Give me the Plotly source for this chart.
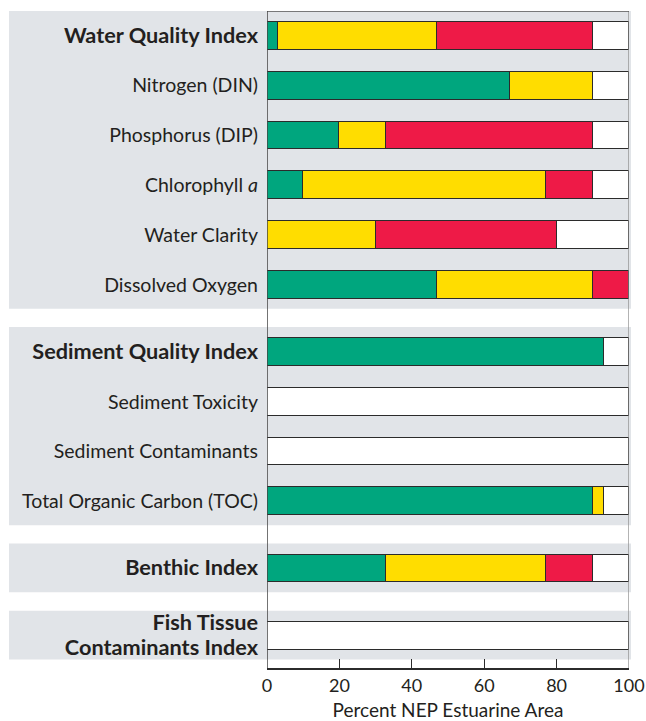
import plotly.graph_objects as go

categories = [
    "<b>Water Quality Index</b>", "Nitrogen (DIN)", "Phosphorus (DIP)", "Chlorophyll <i>a</i>",
    "Water Clarity", "Dissolved Oxygen",
    "<b>Sediment Quality Index</b>", "Sediment Toxicity", "Sediment Contaminants",
    "Total Organic Carbon (TOC)",
    "<b>Benthic Index</b>",
    "<b>Fish Tissue</b><br><b>Contaminants Index</b>",
]
groups = [0, 0, 0, 0, 0, 0, 1, 1, 1, 1, 2, 3]

good = [3, 67, 20, 10, 0, 47, 93, 0, 0, 90, 33, 0]
fair = [44, 23, 13, 67, 30, 43, 0, 0, 0, 3, 44, 0]
poor = [43, 0, 57, 13, 50, 10, 0, 0, 0, 0, 13, 0]
missing = [10, 10, 10, 10, 20, 0, 7, 100, 100, 7, 10, 100]

x_ticks = [0, 20, 40, 60, 80, 100]
x_title = "Percent NEP Estuarine Area"

# row positions: one unit per row, extra gap between groups
GAP = 0.35
ypos = []
cur = 0.0
for i, g in enumerate(groups):
    if i > 0:
        cur += 1.0 + (GAP if g != groups[i - 1] else 0.0)
    ypos.append(cur)

FONT = "Lato, 'Open Sans', sans-serif"
TXT = "#231F20"
EDGE = "#2b2b2b"
BAND = "#E1E4E8"

ticktext = []
for c in categories:
    if c.startswith("<b>"):
        ticktext.append('<span style="font-size:21.7px">' + c + "</span>")
    else:
        ticktext.append(c)

series = [
    ("Good", good, "#00A67E"),
    ("Fair", fair, "#FFDD00"),
    ("Poor", poor, "#EE1A47"),
    ("Missing", missing, "#FFFFFF"),
]

fig = go.Figure()
for name, vals, col in series:
    fig.add_trace(go.Bar(
        y=ypos, x=vals, orientation="h", name=name, width=0.56,
        marker=dict(color=col, line=dict(color=EDGE, width=1.3)),
        showlegend=False, hoverinfo="skip",
    ))

ytop = -0.5
ybot = ypos[-1] + 0.65

shapes = []
for g in sorted(set(groups)):
    idx = [i for i, gg in enumerate(groups) if gg == g]
    y0 = ypos[idx[0]] - 0.5
    y1 = ypos[idx[-1]] + 0.48
    shapes.append(dict(type="rect", xref="paper", yref="y", x0=-0.7127, x1=1.0055,
                       y0=y0, y1=y1, fillcolor=BAND, line=dict(width=0), layer="below"))
shapes.append(dict(type="line", xref="x", yref="y", x0=100, x1=100, y0=ytop, y1=ybot,
                   line=dict(color="#8a8a8a", width=1.3), layer="above"))
shapes.append(dict(type="line", xref="x", yref="y", x0=0, x1=100, y0=ytop, y1=ytop,
                   line=dict(color="#555555", width=1.3), layer="above"))
shapes.append(dict(type="line", xref="x", yref="y", x0=0, x1=0, y0=ytop, y1=ybot,
                   line=dict(color="#444444", width=1.5), layer="above"))

fig.update_layout(
    width=646, height=721,
    margin=dict(l=267, r=17, t=11, b=53, autoexpand=False),
    paper_bgcolor="white", plot_bgcolor="rgba(0,0,0,0)",
    barmode="stack", bargap=0,
    shapes=shapes,
    font=dict(family=FONT, color=TXT, size=19.5),
    xaxis=dict(range=[0, 100], tickvals=x_ticks, ticks="inside", ticklen=9,
               tickwidth=1.3, tickcolor=EDGE, showgrid=False, zeroline=False,
               showline=True, linecolor=EDGE, linewidth=1.8, automargin=False,
               ticklabeloverflow="allow",
               tickfont=dict(size=18, color=TXT),
               title=dict(text=x_title, font=dict(size=19, color=TXT), standoff=11)),
    yaxis=dict(range=[ybot, ytop], tickvals=ypos, ticktext=ticktext, ticks="",
               showgrid=False, zeroline=False, showline=False, automargin=False,
               tickfont=dict(size=19.5, color=TXT), ticklabelstandoff=8),
)

fig.write_html(
    "out.html",
    config={"displayModeBar": False},
    post_script="document.body.style.margin='0px';document.body.style.overflow='hidden';",
)
